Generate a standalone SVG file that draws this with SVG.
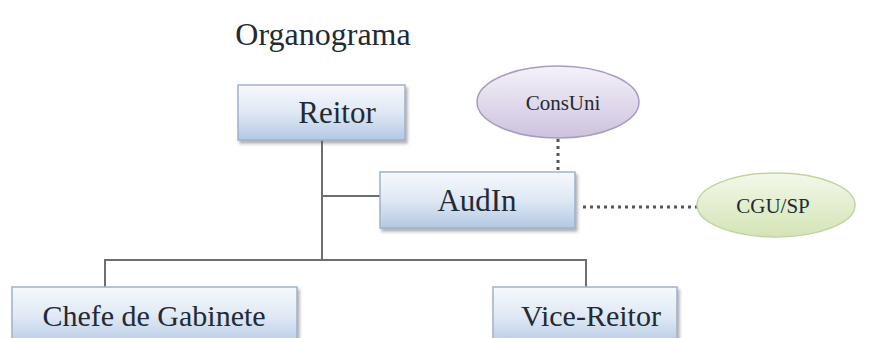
<svg xmlns="http://www.w3.org/2000/svg" width="871" height="338" viewBox="0 0 871 338">
<defs>
<linearGradient id="gBlue" x1="0" y1="0" x2="0" y2="1">
<stop offset="0" stop-color="#f6f9fd"/>
<stop offset="0.5" stop-color="#dfe8f4"/>
<stop offset="1" stop-color="#b3c8e3"/>
</linearGradient>
<linearGradient id="gPurple" x1="0" y1="0" x2="0" y2="1">
<stop offset="0" stop-color="#f5f2f9"/>
<stop offset="1" stop-color="#cdc2de"/>
</linearGradient>
<linearGradient id="gGreen" x1="0" y1="0" x2="0" y2="1">
<stop offset="0" stop-color="#f3f8ea"/>
<stop offset="1" stop-color="#d3e4b5"/>
</linearGradient>
<filter id="sh" x="-10%" y="-10%" width="130%" height="140%">
<feDropShadow dx="2" dy="3" stdDeviation="1.5" flood-color="#556" flood-opacity="0.45"/>
</filter>
</defs>
<style>
.box{fill:url(#gBlue);stroke:#9fb2c8;stroke-width:1.5;filter:url(#sh)}
.line{stroke:#6e6e6e;stroke-width:2;fill:none}
.dot{stroke:#555;stroke-width:3;fill:none;stroke-dasharray:3 4}
</style>
<rect width="871" height="338" fill="#ffffff"/>
<g font-family="Liberation Serif, DejaVu Serif, serif" fill="#222a33" text-anchor="middle">
<text x="323" y="45" font-size="32">Organograma</text>
<g id="connectors">
<path class="line" d="M322 140 V260 M105 287 V260 H586 V287 M322 196 H380"/>
<path class="dot" d="M558 139 V172"/>
<path class="dot" d="M583 207 H698"/>
</g>
<g id="reitor">
<rect class="box" x="238" y="85" width="167" height="55"/>
<text x="337" y="123" font-size="31">Reitor</text>
</g>
<g id="consuni">
<ellipse cx="558" cy="102" rx="81" ry="36" fill="url(#gPurple)" stroke="#a89cc0" stroke-width="1.5"/>
<text x="563" y="110" font-size="21">ConsUni</text>
</g>
<g id="audin">
<rect class="box" x="380" y="172" width="195" height="56"/>
<text x="477" y="211" font-size="31">AudIn</text>
</g>
<g id="cgusp">
<ellipse cx="776" cy="205" rx="79" ry="32" fill="url(#gGreen)" stroke="#c0d4a0" stroke-width="1.5"/>
<text x="773" y="213" font-size="21">CGU/SP</text>
</g>
<g id="chefe">
<rect class="box" x="12" y="287" width="285" height="60"/>
<text x="154" y="326" font-size="30">Chefe de Gabinete</text>
</g>
<g id="vicereitor">
<rect class="box" x="493" y="287" width="184" height="60"/>
<text x="591" y="326" font-size="30">Vice-Reitor</text>
</g>
</g>
</svg>
